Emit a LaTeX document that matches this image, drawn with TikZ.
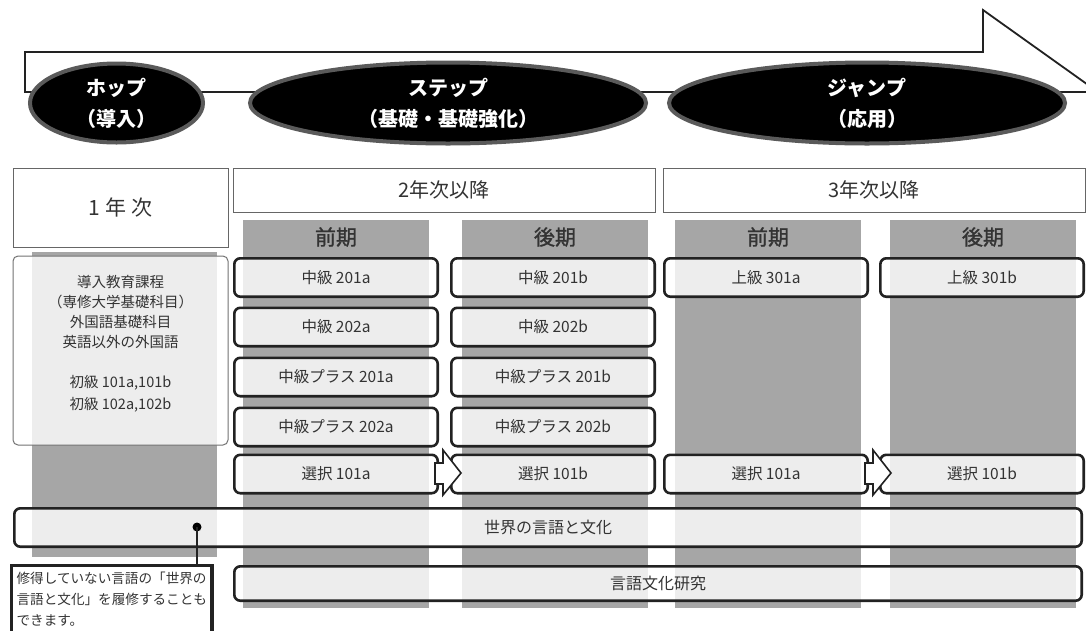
\documentclass[tikz,border=0pt]{standalone}
\usepackage{fontspec}
\setmainfont{Noto Sans CJK JP}
\newfontfamily\semibold[FakeBold=1.2]{Noto Sans CJK JP}
\usetikzlibrary{shapes.geometric}
\definecolor{colgray}{HTML}{A6A6A6}
\definecolor{txt}{HTML}{333333}
\definecolor{ringgray}{HTML}{5A5A5A}
\definecolor{edge}{HTML}{222222}
\begin{document}
\begin{tikzpicture}[x=1pt,y=-1pt,
  phase/.style={ellipse,draw=ringgray,line width=4pt,fill=black,inner sep=0pt,
    text=white,font=\fontsize{20}{31}\selectfont\bfseries,align=center},
  yearbox/.style={draw=black!60,line width=1pt,fill=white,inner sep=0pt,text=txt},
  colhead/.style={text=txt,font=\fontsize{21}{24}\semibold},
  course/.style={draw=edge,line width=2.6pt,rounded corners=6pt,fill=white,fill opacity=0.8,
    text opacity=1,text=txt,inner sep=0pt,minimum width=203.4pt,minimum height=38.4pt,
    font=\fontsize{15.5}{18}\selectfont},
  wide/.style={course,minimum width=#1},
  stepper/.style={draw=edge,line width=1.6pt,fill=white,line join=miter},
  note/.style={draw=edge,line width=3.2pt,fill=white,anchor=north west,align=left,
    inner xsep=5pt,inner ysep=6pt,text=txt,font=\fontsize{13.6}{21}\selectfont},
]
\clip (0,0) rectangle (1086,630);
\fill[white] (0,0) rectangle (1086,630);

% big progress arrow
\draw[line width=1.8pt,draw=edge,fill=white,line join=miter]
  (25,52) -- (983,52) -- (983,10) -- (1098,92) -- (25,92) -- cycle;

% phases
\node[phase,minimum width=173pt,minimum height=79pt] (hop) at (116.5,103) {ホップ\\（導入）};
\node[phase,minimum width=396pt,minimum height=81pt] (step) at (448,103) {ステップ\\（基礎・基礎強化）};
\node[phase,minimum width=396pt,minimum height=81pt] (jump) at (867,103) {ジャンプ\\（応用）};

% year headers
\node[yearbox,minimum width=215pt,minimum height=79pt,font=\fontsize{21}{24}\selectfont] (y1) at (120.5,207.5) {1 年 次};
\node[yearbox,minimum width=422pt,minimum height=44pt,font=\fontsize{20}{24}\selectfont] (y2) at (444,190) {2年次以降};
\node[yearbox,minimum width=422pt,minimum height=44pt,font=\fontsize{20}{24}\selectfont] (y3) at (874,190) {3年次以降};

% gray columns
\fill[colgray] (32,252) rectangle (217,557);
\fill[colgray] (243,220) rectangle (429,608);
\fill[colgray] (462,220) rectangle (648,608);
\fill[colgray] (675,220) rectangle (861,608);
\fill[colgray] (890,220) rectangle (1076,608);

\node[colhead] (h2a) at (336,237) {前期};
\node[colhead] (h2b) at (555,237) {後期};
\node[colhead] (h3a) at (768,237) {前期};
\node[colhead] (h3b) at (983,237) {後期};

% first year box
\node[draw=black!55,line width=1pt,rounded corners=5pt,fill=white,fill opacity=0.8,
  minimum width=215pt,minimum height=189pt,inner sep=0pt] (first) at (120.5,350.5) {};
\node[text=txt,align=center,font=\fontsize{14.5}{20}\selectfont] (firstA) at (120.5,312)
  {導入教育課程\\（専修大学基礎科目）\\外国語基礎科目\\英語以外の外国語};
\node[text=txt,align=center,font=\fontsize{14.5}{22}\selectfont] (firstB) at (120.5,394)
  {初級 101a,101b\\初級 102a,102b};

% courses, 2nd year
\node[course] (c201a) at (336,277.5) {中級 201a};
\node[course] (c202a) at (336,327) {中級 202a};
\node[course] (p201a) at (336,377) {中級プラス 201a};
\node[course] (p202a) at (336,427) {中級プラス 202a};
\node[course] (s2a) at (336,474) {選択 101a};
\node[course] (c201b) at (553,277.5) {中級 201b};
\node[course] (c202b) at (553,327) {中級 202b};
\node[course] (p201b) at (553,377) {中級プラス 201b};
\node[course] (p202b) at (553,427) {中級プラス 202b};
\node[course] (s2b) at (553,474) {選択 101b};
% courses, 3rd year
\node[course] (u301a) at (766,277.5) {上級 301a};
\node[course] (u301b) at (982,277.5) {上級 301b};
\node[course] (s3a) at (766,474) {選択 101a};
\node[course] (s3b) at (982,474) {選択 101b};

% transition arrows
\draw[stepper] (435,463) -- (443,463) -- (443,450) -- (461,473) -- (443,495) -- (443,484) -- (435,484) -- cycle;
\draw[stepper] (865,463) -- (873,463) -- (873,450) -- (891,473) -- (873,495) -- (873,484) -- (865,484) -- cycle;

% wide bands
\node[wide=1067.4pt,font=\fontsize{16}{18}\selectfont] (world) at (548,527.5) {世界の言語と文化};
\node[wide=847.4pt,minimum height=34.4pt,font=\fontsize{16}{18}\selectfont] (study) at (658,583.5) {言語文化研究};

% note with pointer
\node[note] (memo) at (10,564) {修得していない言語の「世界の\\言語と文化」を履修することも\\できます。\\[-4pt]\rule{0pt}{10pt}};
\node[circle,fill=black,inner sep=0pt,minimum size=9pt] (dot) at (197,527) {};
\draw[line width=1.8pt,draw=edge] (dot.center) -- (dot.center |- memo.north);
\end{tikzpicture}
\end{document}
